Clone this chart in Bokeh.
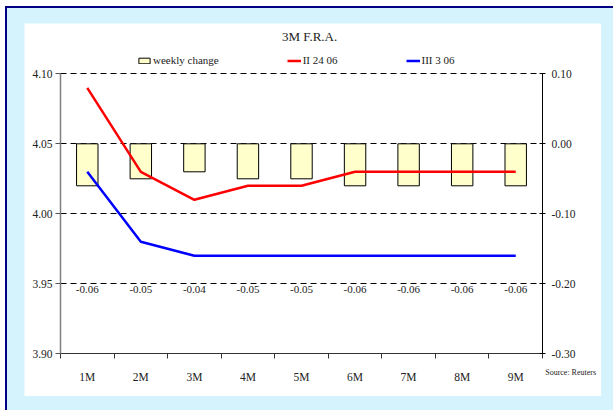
from bokeh.plotting import figure
from bokeh.models import (Range1d, LinearAxis, FixedTicker, NumeralTickFormatter,
                          Legend, LegendItem, Label, ColumnDataSource, Grid)
from bokeh.layouts import column
from bokeh.embed import file_html
from bokeh.resources import INLINE

# 3M FRA curve by tenor
tenors = ["1M", "2M", "3M", "4M", "5M", "6M", "7M", "8M", "9M"]
fra_24_06 = [4.09, 4.03, 4.01, 4.02, 4.02, 4.03, 4.03, 4.03, 4.03]
fra_3_06 = [4.03, 3.98, 3.97, 3.97, 3.97, 3.97, 3.97, 3.97, 3.97]
weekly_change = [-0.06, -0.05, -0.04, -0.05, -0.05, -0.06, -0.06, -0.06, -0.06]

left_ticks = [3.90, 3.95, 4.00, 4.05, 4.10]
right_ticks = [-0.30, -0.20, -0.10, 0.00, 0.10]

FONT = "Liberation Serif"
LIGHT_BLUE = "#D5F3FD"
TEXT = "#222222"

# panel geometry (pixels): the frame fills the white panel, the axes sit inside it
W, H = 577, 373
PLOT_L, PLOT_R, PLOT_T, PLOT_B = 36, 518, 50.3, 330.3
n = len(tenors)
px_x = (PLOT_R - PLOT_L) / n
lo, hi = left_ticks[0], left_ticks[-1]
rlo, rhi = right_ticks[0], right_ticks[-1]
px_y = (PLOT_B - PLOT_T) / (hi - lo)
px_r = (PLOT_B - PLOT_T) / (rhi - rlo)

x_range = Range1d(-PLOT_L / px_x, n + (W - PLOT_R) / px_x)
y_range = Range1d(lo - (H - PLOT_B) / px_y, hi + PLOT_T / px_y)
r_range = Range1d(rlo - (H - PLOT_B) / px_r, rhi + PLOT_T / px_r)

xs = [i + 0.5 for i in range(n)]
src = ColumnDataSource(dict(
    x=xs, tenor=tenors, a=fra_24_06, b=fra_3_06, chg=weekly_change,
    lbl=[f"{v:.2f}" for v in weekly_change],
    lbl_y=[-0.208] * n,
))

p = figure(width=W, height=H, x_range=x_range, y_range=y_range,
           x_axis_type=None, y_axis_type=None,
           output_backend="svg", toolbar_location=None, min_border=0,
           background_fill_color="white", border_fill_color="white",
           outline_line_color=None)
p.extra_y_ranges = {"chg": r_range}

p.add_layout(Grid(dimension=1, ticker=FixedTicker(ticks=left_ticks[1:]),
                  cross_bounds=(0, n),
                  grid_line_color="black", grid_line_dash="6 4", grid_line_width=1), "center")

# weekly change bars on the right-hand scale
bars = p.vbar(x="x", width=0.4, top=0, bottom="chg", source=src, y_range_name="chg",
              fill_color="#FFFFCC", line_color="black", line_width=1)
p.text(x="x", y="lbl_y", text="lbl", source=src, y_range_name="chg",
       text_align="center", text_baseline="middle", text_font_size="11px",
       text_font={"value": FONT}, text_color=TEXT)

line_a = p.line("x", "a", source=src, line_color="#FF0000", line_width=2.5)
line_b = p.line("x", "b", source=src, line_color="#0000FF", line_width=2.5)

# axes
ax_left = LinearAxis(ticker=FixedTicker(ticks=left_ticks), bounds=(lo, hi), fixed_location=0,
                     formatter=NumeralTickFormatter(format="0.00"),
                     axis_line_color="#808080", axis_line_width=1.5,
                     major_tick_line_color="#555555", major_tick_in=0, major_tick_out=5,
                     minor_tick_line_color=None, major_label_standoff=3,
                     major_label_text_font=FONT, major_label_text_font_size="11.5px",
                     major_label_text_color=TEXT)
p.add_layout(ax_left, "left")

ax_right = LinearAxis(y_range_name="chg", ticker=FixedTicker(ticks=right_ticks),
                      bounds=(rlo, rhi), fixed_location=n,
                      formatter=NumeralTickFormatter(format="0.00"),
                      axis_line_color="black", axis_line_width=1,
                      major_tick_line_color="black", major_tick_in=3, major_tick_out=3,
                      minor_tick_line_color=None, major_label_standoff=6,
                      major_label_text_font=FONT, major_label_text_font_size="11.5px",
                      major_label_text_color=TEXT)
p.add_layout(ax_right, "right")

ax_bottom = LinearAxis(ticker=FixedTicker(ticks=xs, minor_ticks=list(range(n + 1))),
                       bounds=(0, n), fixed_location=lo,
                       major_label_overrides={x: t for x, t in zip(xs, tenors)},
                       axis_line_color="#333333", axis_line_width=1,
                       major_tick_line_color=None, major_tick_in=0, major_tick_out=0,
                       minor_tick_line_color="#333333", minor_tick_in=0, minor_tick_out=5,
                       major_label_standoff=12,
                       major_label_text_font=FONT, major_label_text_font_size="11.5px",
                       major_label_text_color=TEXT)
p.add_layout(ax_bottom, "below")

p.add_layout(Label(x=9.05, y=3.887, text="Source: Reuters", text_font=FONT,
                   text_font_size="8px", text_baseline="middle", text_align="left",
                   text_color=TEXT))

p.add_layout(Label(x=4.65, y=4.1266, text="3M F.R.A.", text_font=FONT,
                   text_font_size="13px", text_baseline="middle", text_align="center",
                   text_color=TEXT))

legend = Legend(items=[LegendItem(label="weekly change", renderers=[bars]),
                       LegendItem(label="II 24 06", renderers=[line_a]),
                       LegendItem(label="III 3 06", renderers=[line_b])],
                orientation="horizontal", location=(113, 330), spacing=68,
                glyph_width=14, glyph_height=7, label_standoff=2,
                padding=0, margin=0, border_line_color=None, background_fill_alpha=0,
                label_text_font=FONT, label_text_font_size="11px",
                label_text_color=TEXT)
p.add_layout(legend, "center")

outer = column(p, styles={
    "margin-left": "5px", "margin-top": "6px",
    "border-top": "2px solid #000080", "border-left": "2px solid #000080",
    "background-color": LIGHT_BLUE,
    "padding": "15px 12px 14px 17px",
})

open("out.html", "w").write(file_html(outer, INLINE))
